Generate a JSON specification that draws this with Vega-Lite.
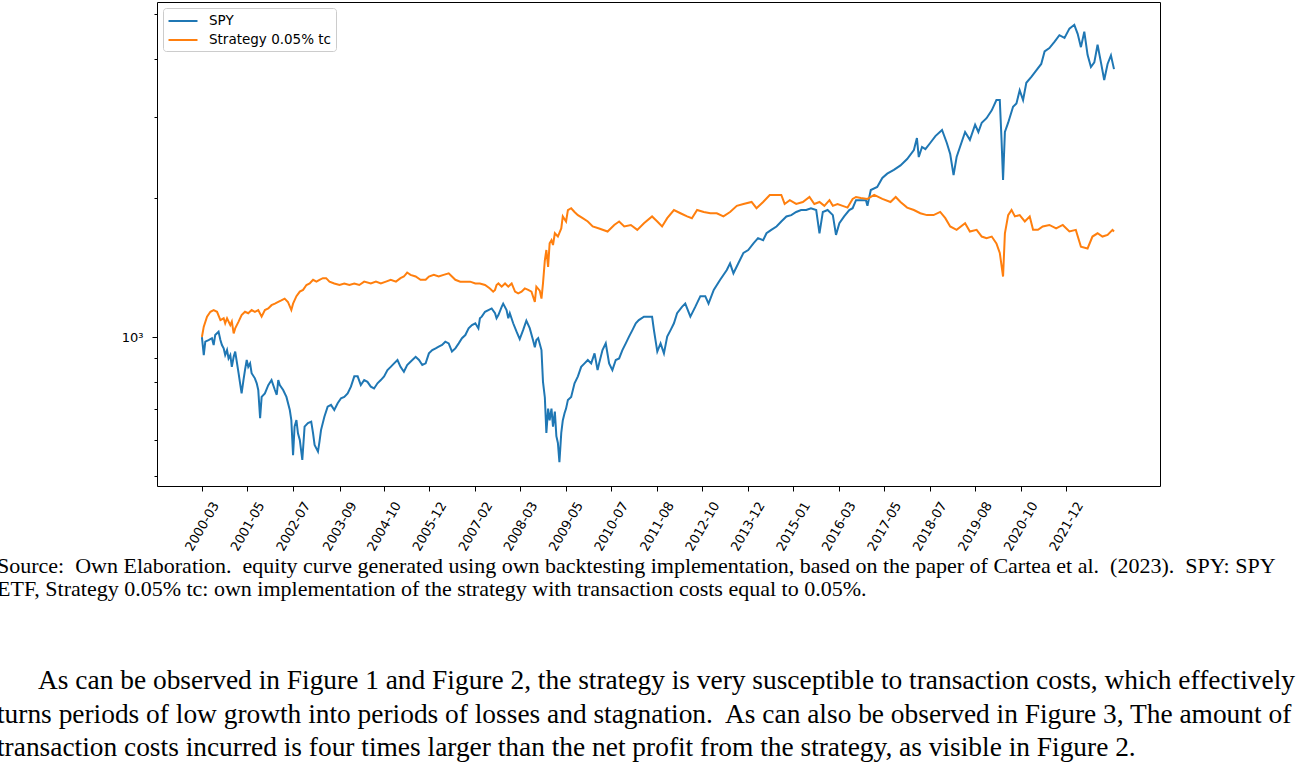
{
  "$schema": "https://vega.github.io/schema/vega-lite/v6.json",
  "autosize": "none",
  "padding": {"left": 157, "top": 2, "right": 137, "bottom": 282},
  "width": 1003,
  "height": 484,
  "background": "white",
  "config": {"view": {"stroke": "black", "strokeWidth": 1}, "font": "DejaVu Sans"},
  "title": {
    "text": [
      "Source:\u00a0 Own Elaboration.\u00a0 equity curve generated using own backtesting implementation, based on the paper of Cartea et al.\u00a0 (2023).\u00a0 SPY: SPY",
      "ETF, Strategy 0.05% tc: own implementation of the strategy with transaction costs equal to 0.05%."
    ],
    "subtitle": [
      "\u200b\u00a0\u00a0\u00a0\u00a0\u00a0\u00a0As can be observed in Figure 1 and Figure 2, the strategy is very susceptible to transaction costs, which effectively",
      "turns periods of low growth into periods of losses and stagnation.\u00a0 As can also be observed in Figure 3, The amount of",
      "transaction costs incurred is four times larger than the net profit from the strategy, as visible in Figure 2."
    ],
    "orient": "bottom",
    "anchor": "start",
    "frame": "group",
    "font": "Liberation Serif",
    "fontSize": 22,
    "fontWeight": "normal",
    "color": "black",
    "lineHeight": 23,
    "subtitleFont": "Liberation Serif",
    "subtitleFontSize": 27.4,
    "subtitleColor": "black",
    "subtitleLineHeight": 33.5,
    "subtitlePadding": 66,
    "dx": -160,
    "offset": 3,
    "limit": 3000
  },
  "data": {
    "values": [
      {"date": "2000-03-15", "series": "SPY", "value": 1000},
      {"date": "2000-04-01", "series": "SPY", "value": 914},
      {"date": "2000-04-15", "series": "SPY", "value": 977},
      {"date": "2000-05-15", "series": "SPY", "value": 985},
      {"date": "2000-06-15", "series": "SPY", "value": 994},
      {"date": "2000-07-01", "series": "SPY", "value": 961},
      {"date": "2000-07-15", "series": "SPY", "value": 1010},
      {"date": "2000-08-15", "series": "SPY", "value": 1027},
      {"date": "2000-09-01", "series": "SPY", "value": 985},
      {"date": "2000-09-15", "series": "SPY", "value": 961},
      {"date": "2000-10-01", "series": "SPY", "value": 945},
      {"date": "2000-10-15", "series": "SPY", "value": 914},
      {"date": "2000-11-01", "series": "SPY", "value": 937},
      {"date": "2000-11-15", "series": "SPY", "value": 899},
      {"date": "2000-12-01", "series": "SPY", "value": 914},
      {"date": "2000-12-15", "series": "SPY", "value": 862},
      {"date": "2001-01-01", "series": "SPY", "value": 906},
      {"date": "2001-01-15", "series": "SPY", "value": 930},
      {"date": "2001-02-01", "series": "SPY", "value": 877},
      {"date": "2001-02-15", "series": "SPY", "value": 835},
      {"date": "2001-03-01", "series": "SPY", "value": 794},
      {"date": "2001-03-15", "series": "SPY", "value": 755},
      {"date": "2001-04-01", "series": "SPY", "value": 807},
      {"date": "2001-04-15", "series": "SPY", "value": 848},
      {"date": "2001-05-01", "series": "SPY", "value": 892},
      {"date": "2001-05-15", "series": "SPY", "value": 862},
      {"date": "2001-06-01", "series": "SPY", "value": 877},
      {"date": "2001-06-15", "series": "SPY", "value": 835},
      {"date": "2001-07-15", "series": "SPY", "value": 814},
      {"date": "2001-08-01", "series": "SPY", "value": 794},
      {"date": "2001-08-15", "series": "SPY", "value": 768},
      {"date": "2001-09-01", "series": "SPY", "value": 667},
      {"date": "2001-09-15", "series": "SPY", "value": 742},
      {"date": "2001-10-15", "series": "SPY", "value": 755},
      {"date": "2001-11-15", "series": "SPY", "value": 787},
      {"date": "2001-12-15", "series": "SPY", "value": 807},
      {"date": "2002-01-15", "series": "SPY", "value": 768},
      {"date": "2002-02-01", "series": "SPY", "value": 750},
      {"date": "2002-02-15", "series": "SPY", "value": 807},
      {"date": "2002-03-01", "series": "SPY", "value": 787},
      {"date": "2002-04-01", "series": "SPY", "value": 768},
      {"date": "2002-05-01", "series": "SPY", "value": 742},
      {"date": "2002-06-01", "series": "SPY", "value": 695},
      {"date": "2002-06-15", "series": "SPY", "value": 661},
      {"date": "2002-07-01", "series": "SPY", "value": 555},
      {"date": "2002-07-15", "series": "SPY", "value": 640},
      {"date": "2002-08-01", "series": "SPY", "value": 661},
      {"date": "2002-08-15", "series": "SPY", "value": 619},
      {"date": "2002-09-01", "series": "SPY", "value": 599},
      {"date": "2002-09-24", "series": "SPY", "value": 542},
      {"date": "2002-10-15", "series": "SPY", "value": 640},
      {"date": "2002-11-15", "series": "SPY", "value": 651},
      {"date": "2002-12-15", "series": "SPY", "value": 656},
      {"date": "2003-01-01", "series": "SPY", "value": 619},
      {"date": "2003-01-15", "series": "SPY", "value": 584},
      {"date": "2003-02-15", "series": "SPY", "value": 565},
      {"date": "2003-03-01", "series": "SPY", "value": 594},
      {"date": "2003-03-15", "series": "SPY", "value": 629},
      {"date": "2003-04-15", "series": "SPY", "value": 672},
      {"date": "2003-05-15", "series": "SPY", "value": 707},
      {"date": "2003-06-15", "series": "SPY", "value": 713},
      {"date": "2003-07-15", "series": "SPY", "value": 695},
      {"date": "2003-08-15", "series": "SPY", "value": 719},
      {"date": "2003-09-15", "series": "SPY", "value": 737},
      {"date": "2003-10-15", "series": "SPY", "value": 742},
      {"date": "2003-11-15", "series": "SPY", "value": 755},
      {"date": "2003-12-15", "series": "SPY", "value": 781},
      {"date": "2004-01-15", "series": "SPY", "value": 822},
      {"date": "2004-02-15", "series": "SPY", "value": 822},
      {"date": "2004-03-15", "series": "SPY", "value": 787},
      {"date": "2004-04-15", "series": "SPY", "value": 807},
      {"date": "2004-05-15", "series": "SPY", "value": 800},
      {"date": "2004-06-15", "series": "SPY", "value": 781},
      {"date": "2004-07-15", "series": "SPY", "value": 774},
      {"date": "2004-08-15", "series": "SPY", "value": 794},
      {"date": "2004-09-15", "series": "SPY", "value": 807},
      {"date": "2004-10-15", "series": "SPY", "value": 822},
      {"date": "2004-11-15", "series": "SPY", "value": 848},
      {"date": "2004-12-15", "series": "SPY", "value": 862},
      {"date": "2005-01-15", "series": "SPY", "value": 877},
      {"date": "2005-02-15", "series": "SPY", "value": 892},
      {"date": "2005-03-15", "series": "SPY", "value": 862},
      {"date": "2005-04-15", "series": "SPY", "value": 841},
      {"date": "2005-05-15", "series": "SPY", "value": 870},
      {"date": "2005-06-15", "series": "SPY", "value": 884},
      {"date": "2005-08-01", "series": "SPY", "value": 906},
      {"date": "2005-09-01", "series": "SPY", "value": 892},
      {"date": "2005-10-01", "series": "SPY", "value": 870},
      {"date": "2005-11-01", "series": "SPY", "value": 877},
      {"date": "2005-12-01", "series": "SPY", "value": 922},
      {"date": "2006-01-01", "series": "SPY", "value": 937},
      {"date": "2006-02-01", "series": "SPY", "value": 945},
      {"date": "2006-03-01", "series": "SPY", "value": 953},
      {"date": "2006-04-01", "series": "SPY", "value": 961},
      {"date": "2006-05-01", "series": "SPY", "value": 977},
      {"date": "2006-06-01", "series": "SPY", "value": 969},
      {"date": "2006-07-01", "series": "SPY", "value": 930},
      {"date": "2006-08-01", "series": "SPY", "value": 945},
      {"date": "2006-09-01", "series": "SPY", "value": 969},
      {"date": "2006-10-01", "series": "SPY", "value": 994},
      {"date": "2006-11-01", "series": "SPY", "value": 1010},
      {"date": "2006-12-01", "series": "SPY", "value": 1044},
      {"date": "2007-01-01", "series": "SPY", "value": 1061},
      {"date": "2007-02-01", "series": "SPY", "value": 1071},
      {"date": "2007-03-01", "series": "SPY", "value": 1044},
      {"date": "2007-03-15", "series": "SPY", "value": 1098},
      {"date": "2007-04-01", "series": "SPY", "value": 1107},
      {"date": "2007-05-01", "series": "SPY", "value": 1134},
      {"date": "2007-06-01", "series": "SPY", "value": 1144},
      {"date": "2007-07-01", "series": "SPY", "value": 1153},
      {"date": "2007-08-01", "series": "SPY", "value": 1126},
      {"date": "2007-08-15", "series": "SPY", "value": 1098},
      {"date": "2007-09-01", "series": "SPY", "value": 1116},
      {"date": "2007-10-01", "series": "SPY", "value": 1162},
      {"date": "2007-10-15", "series": "SPY", "value": 1181},
      {"date": "2007-11-15", "series": "SPY", "value": 1144},
      {"date": "2007-12-01", "series": "SPY", "value": 1098},
      {"date": "2007-12-15", "series": "SPY", "value": 1126},
      {"date": "2008-01-15", "series": "SPY", "value": 1071},
      {"date": "2008-02-15", "series": "SPY", "value": 1027},
      {"date": "2008-03-15", "series": "SPY", "value": 990},
      {"date": "2008-04-15", "series": "SPY", "value": 1035},
      {"date": "2008-05-15", "series": "SPY", "value": 1085},
      {"date": "2008-06-15", "series": "SPY", "value": 1045},
      {"date": "2008-07-15", "series": "SPY", "value": 985},
      {"date": "2008-08-01", "series": "SPY", "value": 950},
      {"date": "2008-08-15", "series": "SPY", "value": 985},
      {"date": "2008-09-01", "series": "SPY", "value": 994},
      {"date": "2008-10-01", "series": "SPY", "value": 937},
      {"date": "2008-10-15", "series": "SPY", "value": 800},
      {"date": "2008-11-01", "series": "SPY", "value": 740},
      {"date": "2008-11-15", "series": "SPY", "value": 620},
      {"date": "2008-12-01", "series": "SPY", "value": 700},
      {"date": "2008-12-15", "series": "SPY", "value": 660},
      {"date": "2009-01-01", "series": "SPY", "value": 700},
      {"date": "2009-01-15", "series": "SPY", "value": 640},
      {"date": "2009-02-01", "series": "SPY", "value": 690},
      {"date": "2009-02-15", "series": "SPY", "value": 610},
      {"date": "2009-03-01", "series": "SPY", "value": 590},
      {"date": "2009-03-15", "series": "SPY", "value": 536},
      {"date": "2009-04-01", "series": "SPY", "value": 620},
      {"date": "2009-04-15", "series": "SPY", "value": 660},
      {"date": "2009-05-01", "series": "SPY", "value": 684},
      {"date": "2009-05-15", "series": "SPY", "value": 700},
      {"date": "2009-06-01", "series": "SPY", "value": 731},
      {"date": "2009-07-01", "series": "SPY", "value": 742},
      {"date": "2009-08-01", "series": "SPY", "value": 794},
      {"date": "2009-09-01", "series": "SPY", "value": 822},
      {"date": "2009-10-01", "series": "SPY", "value": 862},
      {"date": "2009-11-01", "series": "SPY", "value": 877},
      {"date": "2009-12-01", "series": "SPY", "value": 892},
      {"date": "2010-01-01", "series": "SPY", "value": 877},
      {"date": "2010-02-01", "series": "SPY", "value": 922},
      {"date": "2010-03-01", "series": "SPY", "value": 848},
      {"date": "2010-03-15", "series": "SPY", "value": 877},
      {"date": "2010-04-15", "series": "SPY", "value": 937},
      {"date": "2010-05-15", "series": "SPY", "value": 969},
      {"date": "2010-06-15", "series": "SPY", "value": 877},
      {"date": "2010-07-15", "series": "SPY", "value": 848},
      {"date": "2010-08-15", "series": "SPY", "value": 892},
      {"date": "2010-09-15", "series": "SPY", "value": 899},
      {"date": "2010-10-15", "series": "SPY", "value": 937},
      {"date": "2010-11-15", "series": "SPY", "value": 969},
      {"date": "2010-12-15", "series": "SPY", "value": 1002},
      {"date": "2011-01-15", "series": "SPY", "value": 1035},
      {"date": "2011-02-15", "series": "SPY", "value": 1071},
      {"date": "2011-03-15", "series": "SPY", "value": 1088},
      {"date": "2011-05-01", "series": "SPY", "value": 1107},
      {"date": "2011-06-15", "series": "SPY", "value": 1107},
      {"date": "2011-07-15", "series": "SPY", "value": 1107},
      {"date": "2011-08-01", "series": "SPY", "value": 1035},
      {"date": "2011-09-01", "series": "SPY", "value": 930},
      {"date": "2011-10-01", "series": "SPY", "value": 969},
      {"date": "2011-11-01", "series": "SPY", "value": 922},
      {"date": "2011-12-01", "series": "SPY", "value": 1002},
      {"date": "2012-01-01", "series": "SPY", "value": 1035},
      {"date": "2012-02-01", "series": "SPY", "value": 1071},
      {"date": "2012-03-01", "series": "SPY", "value": 1126},
      {"date": "2012-04-15", "series": "SPY", "value": 1162},
      {"date": "2012-05-15", "series": "SPY", "value": 1181},
      {"date": "2012-07-01", "series": "SPY", "value": 1107},
      {"date": "2012-08-15", "series": "SPY", "value": 1162},
      {"date": "2012-10-01", "series": "SPY", "value": 1226},
      {"date": "2012-11-15", "series": "SPY", "value": 1226},
      {"date": "2012-12-15", "series": "SPY", "value": 1181},
      {"date": "2013-02-01", "series": "SPY", "value": 1265},
      {"date": "2013-04-01", "series": "SPY", "value": 1330},
      {"date": "2013-06-01", "series": "SPY", "value": 1397},
      {"date": "2013-07-01", "series": "SPY", "value": 1444},
      {"date": "2013-08-01", "series": "SPY", "value": 1374},
      {"date": "2013-09-15", "series": "SPY", "value": 1444},
      {"date": "2013-11-01", "series": "SPY", "value": 1521},
      {"date": "2013-12-15", "series": "SPY", "value": 1543},
      {"date": "2014-02-01", "series": "SPY", "value": 1595},
      {"date": "2014-03-15", "series": "SPY", "value": 1637},
      {"date": "2014-05-01", "series": "SPY", "value": 1620},
      {"date": "2014-06-01", "series": "SPY", "value": 1677},
      {"date": "2014-07-15", "series": "SPY", "value": 1706},
      {"date": "2014-09-01", "series": "SPY", "value": 1735},
      {"date": "2014-10-15", "series": "SPY", "value": 1779},
      {"date": "2014-12-01", "series": "SPY", "value": 1824},
      {"date": "2015-01-15", "series": "SPY", "value": 1836},
      {"date": "2015-03-01", "series": "SPY", "value": 1865},
      {"date": "2015-04-15", "series": "SPY", "value": 1883},
      {"date": "2015-06-01", "series": "SPY", "value": 1883},
      {"date": "2015-07-15", "series": "SPY", "value": 1900},
      {"date": "2015-09-01", "series": "SPY", "value": 1883},
      {"date": "2015-10-01", "series": "SPY", "value": 1677},
      {"date": "2015-11-01", "series": "SPY", "value": 1865},
      {"date": "2015-12-15", "series": "SPY", "value": 1883},
      {"date": "2016-02-01", "series": "SPY", "value": 1836},
      {"date": "2016-03-01", "series": "SPY", "value": 1664},
      {"date": "2016-04-01", "series": "SPY", "value": 1763},
      {"date": "2016-05-15", "series": "SPY", "value": 1824},
      {"date": "2016-07-01", "series": "SPY", "value": 1883},
      {"date": "2016-08-01", "series": "SPY", "value": 1900},
      {"date": "2016-09-01", "series": "SPY", "value": 1978},
      {"date": "2016-10-15", "series": "SPY", "value": 1978},
      {"date": "2016-12-01", "series": "SPY", "value": 1978},
      {"date": "2016-12-15", "series": "SPY", "value": 1923},
      {"date": "2017-01-15", "series": "SPY", "value": 2081},
      {"date": "2017-03-15", "series": "SPY", "value": 2112},
      {"date": "2017-05-01", "series": "SPY", "value": 2210},
      {"date": "2017-06-15", "series": "SPY", "value": 2257},
      {"date": "2017-08-15", "series": "SPY", "value": 2300},
      {"date": "2017-10-15", "series": "SPY", "value": 2352},
      {"date": "2017-12-15", "series": "SPY", "value": 2428},
      {"date": "2018-02-15", "series": "SPY", "value": 2540},
      {"date": "2018-03-15", "series": "SPY", "value": 2695},
      {"date": "2018-04-01", "series": "SPY", "value": 2452},
      {"date": "2018-05-01", "series": "SPY", "value": 2578},
      {"date": "2018-06-01", "series": "SPY", "value": 2550},
      {"date": "2018-07-15", "series": "SPY", "value": 2630},
      {"date": "2018-09-01", "series": "SPY", "value": 2722},
      {"date": "2018-11-01", "series": "SPY", "value": 2806},
      {"date": "2018-12-15", "series": "SPY", "value": 2630},
      {"date": "2019-01-15", "series": "SPY", "value": 2490},
      {"date": "2019-02-15", "series": "SPY", "value": 2240},
      {"date": "2019-03-15", "series": "SPY", "value": 2452},
      {"date": "2019-04-15", "series": "SPY", "value": 2578},
      {"date": "2019-06-01", "series": "SPY", "value": 2778},
      {"date": "2019-07-15", "series": "SPY", "value": 2672},
      {"date": "2019-09-01", "series": "SPY", "value": 2882},
      {"date": "2019-10-01", "series": "SPY", "value": 2778},
      {"date": "2019-11-01", "series": "SPY", "value": 2910},
      {"date": "2019-12-15", "series": "SPY", "value": 2976},
      {"date": "2020-02-01", "series": "SPY", "value": 3095},
      {"date": "2020-03-15", "series": "SPY", "value": 3258},
      {"date": "2020-04-15", "series": "SPY", "value": 3258},
      {"date": "2020-05-01", "series": "SPY", "value": 2672},
      {"date": "2020-05-15", "series": "SPY", "value": 2188},
      {"date": "2020-06-01", "series": "SPY", "value": 2778},
      {"date": "2020-07-01", "series": "SPY", "value": 2910},
      {"date": "2020-08-15", "series": "SPY", "value": 3150},
      {"date": "2020-09-15", "series": "SPY", "value": 3203},
      {"date": "2020-10-15", "series": "SPY", "value": 3420},
      {"date": "2020-11-15", "series": "SPY", "value": 3258},
      {"date": "2020-12-15", "series": "SPY", "value": 3550},
      {"date": "2021-02-01", "series": "SPY", "value": 3660},
      {"date": "2021-03-15", "series": "SPY", "value": 3770},
      {"date": "2021-05-01", "series": "SPY", "value": 3900},
      {"date": "2021-06-01", "series": "SPY", "value": 4150},
      {"date": "2021-07-15", "series": "SPY", "value": 4220},
      {"date": "2021-09-01", "series": "SPY", "value": 4360},
      {"date": "2021-10-15", "series": "SPY", "value": 4500},
      {"date": "2021-12-01", "series": "SPY", "value": 4440},
      {"date": "2022-01-15", "series": "SPY", "value": 4650},
      {"date": "2022-03-01", "series": "SPY", "value": 4740},
      {"date": "2022-04-01", "series": "SPY", "value": 4530},
      {"date": "2022-05-01", "series": "SPY", "value": 4240},
      {"date": "2022-06-01", "series": "SPY", "value": 4580},
      {"date": "2022-07-01", "series": "SPY", "value": 4080},
      {"date": "2022-08-01", "series": "SPY", "value": 3840},
      {"date": "2022-09-01", "series": "SPY", "value": 3930},
      {"date": "2022-10-01", "series": "SPY", "value": 4290},
      {"date": "2022-11-01", "series": "SPY", "value": 3930},
      {"date": "2022-12-01", "series": "SPY", "value": 3600},
      {"date": "2023-01-01", "series": "SPY", "value": 3900},
      {"date": "2023-02-01", "series": "SPY", "value": 4070},
      {"date": "2023-03-01", "series": "SPY", "value": 3800},
      {"date": "2000-03-15", "series": "Strategy 0.05% tc", "value": 1000},
      {"date": "2000-04-01", "series": "Strategy 0.05% tc", "value": 1053},
      {"date": "2000-05-01", "series": "Strategy 0.05% tc", "value": 1107},
      {"date": "2000-06-01", "series": "Strategy 0.05% tc", "value": 1134},
      {"date": "2000-07-01", "series": "Strategy 0.05% tc", "value": 1144},
      {"date": "2000-08-01", "series": "Strategy 0.05% tc", "value": 1134},
      {"date": "2000-09-01", "series": "Strategy 0.05% tc", "value": 1088},
      {"date": "2000-10-01", "series": "Strategy 0.05% tc", "value": 1098},
      {"date": "2000-10-15", "series": "Strategy 0.05% tc", "value": 1071},
      {"date": "2000-11-01", "series": "Strategy 0.05% tc", "value": 1098},
      {"date": "2000-12-01", "series": "Strategy 0.05% tc", "value": 1061},
      {"date": "2000-12-15", "series": "Strategy 0.05% tc", "value": 1080},
      {"date": "2001-01-01", "series": "Strategy 0.05% tc", "value": 1018},
      {"date": "2001-01-15", "series": "Strategy 0.05% tc", "value": 1044},
      {"date": "2001-02-15", "series": "Strategy 0.05% tc", "value": 1080},
      {"date": "2001-03-15", "series": "Strategy 0.05% tc", "value": 1116},
      {"date": "2001-04-15", "series": "Strategy 0.05% tc", "value": 1134},
      {"date": "2001-05-15", "series": "Strategy 0.05% tc", "value": 1126},
      {"date": "2001-06-15", "series": "Strategy 0.05% tc", "value": 1144},
      {"date": "2001-07-15", "series": "Strategy 0.05% tc", "value": 1134},
      {"date": "2001-08-15", "series": "Strategy 0.05% tc", "value": 1144},
      {"date": "2001-09-15", "series": "Strategy 0.05% tc", "value": 1107},
      {"date": "2001-10-15", "series": "Strategy 0.05% tc", "value": 1144},
      {"date": "2001-11-15", "series": "Strategy 0.05% tc", "value": 1153},
      {"date": "2001-12-15", "series": "Strategy 0.05% tc", "value": 1172},
      {"date": "2002-01-15", "series": "Strategy 0.05% tc", "value": 1181},
      {"date": "2002-02-15", "series": "Strategy 0.05% tc", "value": 1191},
      {"date": "2002-03-15", "series": "Strategy 0.05% tc", "value": 1200},
      {"date": "2002-04-15", "series": "Strategy 0.05% tc", "value": 1211},
      {"date": "2002-05-15", "series": "Strategy 0.05% tc", "value": 1191},
      {"date": "2002-06-15", "series": "Strategy 0.05% tc", "value": 1144},
      {"date": "2002-07-01", "series": "Strategy 0.05% tc", "value": 1181},
      {"date": "2002-08-01", "series": "Strategy 0.05% tc", "value": 1226},
      {"date": "2002-09-01", "series": "Strategy 0.05% tc", "value": 1254},
      {"date": "2002-10-01", "series": "Strategy 0.05% tc", "value": 1265},
      {"date": "2002-11-01", "series": "Strategy 0.05% tc", "value": 1296},
      {"date": "2002-12-01", "series": "Strategy 0.05% tc", "value": 1306},
      {"date": "2003-01-01", "series": "Strategy 0.05% tc", "value": 1330},
      {"date": "2003-02-01", "series": "Strategy 0.05% tc", "value": 1318},
      {"date": "2003-03-01", "series": "Strategy 0.05% tc", "value": 1330},
      {"date": "2003-04-01", "series": "Strategy 0.05% tc", "value": 1341},
      {"date": "2003-05-01", "series": "Strategy 0.05% tc", "value": 1341},
      {"date": "2003-06-01", "series": "Strategy 0.05% tc", "value": 1318},
      {"date": "2003-07-15", "series": "Strategy 0.05% tc", "value": 1306},
      {"date": "2003-09-01", "series": "Strategy 0.05% tc", "value": 1296},
      {"date": "2003-10-15", "series": "Strategy 0.05% tc", "value": 1306},
      {"date": "2003-12-01", "series": "Strategy 0.05% tc", "value": 1296},
      {"date": "2004-01-15", "series": "Strategy 0.05% tc", "value": 1306},
      {"date": "2004-03-01", "series": "Strategy 0.05% tc", "value": 1296},
      {"date": "2004-04-15", "series": "Strategy 0.05% tc", "value": 1318},
      {"date": "2004-06-15", "series": "Strategy 0.05% tc", "value": 1306},
      {"date": "2004-08-01", "series": "Strategy 0.05% tc", "value": 1318},
      {"date": "2004-09-15", "series": "Strategy 0.05% tc", "value": 1306},
      {"date": "2004-11-01", "series": "Strategy 0.05% tc", "value": 1318},
      {"date": "2004-12-15", "series": "Strategy 0.05% tc", "value": 1330},
      {"date": "2005-02-01", "series": "Strategy 0.05% tc", "value": 1318},
      {"date": "2005-03-15", "series": "Strategy 0.05% tc", "value": 1341},
      {"date": "2005-04-15", "series": "Strategy 0.05% tc", "value": 1352},
      {"date": "2005-05-15", "series": "Strategy 0.05% tc", "value": 1379},
      {"date": "2005-06-15", "series": "Strategy 0.05% tc", "value": 1363},
      {"date": "2005-08-01", "series": "Strategy 0.05% tc", "value": 1352},
      {"date": "2005-09-15", "series": "Strategy 0.05% tc", "value": 1330},
      {"date": "2005-11-01", "series": "Strategy 0.05% tc", "value": 1330},
      {"date": "2005-12-01", "series": "Strategy 0.05% tc", "value": 1352},
      {"date": "2006-01-15", "series": "Strategy 0.05% tc", "value": 1363},
      {"date": "2006-03-01", "series": "Strategy 0.05% tc", "value": 1352},
      {"date": "2006-04-15", "series": "Strategy 0.05% tc", "value": 1363},
      {"date": "2006-06-01", "series": "Strategy 0.05% tc", "value": 1374},
      {"date": "2006-07-01", "series": "Strategy 0.05% tc", "value": 1352},
      {"date": "2006-08-01", "series": "Strategy 0.05% tc", "value": 1330},
      {"date": "2006-09-15", "series": "Strategy 0.05% tc", "value": 1318},
      {"date": "2006-11-01", "series": "Strategy 0.05% tc", "value": 1318},
      {"date": "2006-12-15", "series": "Strategy 0.05% tc", "value": 1318},
      {"date": "2007-02-01", "series": "Strategy 0.05% tc", "value": 1306},
      {"date": "2007-03-15", "series": "Strategy 0.05% tc", "value": 1306},
      {"date": "2007-05-01", "series": "Strategy 0.05% tc", "value": 1296},
      {"date": "2007-06-15", "series": "Strategy 0.05% tc", "value": 1274},
      {"date": "2007-07-15", "series": "Strategy 0.05% tc", "value": 1254},
      {"date": "2007-08-01", "series": "Strategy 0.05% tc", "value": 1265},
      {"date": "2007-08-15", "series": "Strategy 0.05% tc", "value": 1296},
      {"date": "2007-09-01", "series": "Strategy 0.05% tc", "value": 1306},
      {"date": "2007-10-01", "series": "Strategy 0.05% tc", "value": 1285},
      {"date": "2007-11-01", "series": "Strategy 0.05% tc", "value": 1306},
      {"date": "2007-12-01", "series": "Strategy 0.05% tc", "value": 1285},
      {"date": "2008-01-01", "series": "Strategy 0.05% tc", "value": 1306},
      {"date": "2008-02-01", "series": "Strategy 0.05% tc", "value": 1254},
      {"date": "2008-03-01", "series": "Strategy 0.05% tc", "value": 1243},
      {"date": "2008-04-01", "series": "Strategy 0.05% tc", "value": 1254},
      {"date": "2008-05-01", "series": "Strategy 0.05% tc", "value": 1274},
      {"date": "2008-06-01", "series": "Strategy 0.05% tc", "value": 1265},
      {"date": "2008-07-01", "series": "Strategy 0.05% tc", "value": 1254},
      {"date": "2008-08-01", "series": "Strategy 0.05% tc", "value": 1191},
      {"date": "2008-08-15", "series": "Strategy 0.05% tc", "value": 1285},
      {"date": "2008-09-15", "series": "Strategy 0.05% tc", "value": 1260},
      {"date": "2008-10-01", "series": "Strategy 0.05% tc", "value": 1211},
      {"date": "2008-10-15", "series": "Strategy 0.05% tc", "value": 1306},
      {"date": "2008-11-01", "series": "Strategy 0.05% tc", "value": 1466},
      {"date": "2008-11-15", "series": "Strategy 0.05% tc", "value": 1543},
      {"date": "2008-12-01", "series": "Strategy 0.05% tc", "value": 1418},
      {"date": "2008-12-15", "series": "Strategy 0.05% tc", "value": 1595},
      {"date": "2009-01-01", "series": "Strategy 0.05% tc", "value": 1620},
      {"date": "2009-01-15", "series": "Strategy 0.05% tc", "value": 1582},
      {"date": "2009-02-01", "series": "Strategy 0.05% tc", "value": 1677},
      {"date": "2009-03-01", "series": "Strategy 0.05% tc", "value": 1650},
      {"date": "2009-04-01", "series": "Strategy 0.05% tc", "value": 1718},
      {"date": "2009-04-15", "series": "Strategy 0.05% tc", "value": 1824},
      {"date": "2009-05-15", "series": "Strategy 0.05% tc", "value": 1779},
      {"date": "2009-06-01", "series": "Strategy 0.05% tc", "value": 1883},
      {"date": "2009-07-01", "series": "Strategy 0.05% tc", "value": 1900},
      {"date": "2009-08-01", "series": "Strategy 0.05% tc", "value": 1865},
      {"date": "2009-09-01", "series": "Strategy 0.05% tc", "value": 1836},
      {"date": "2009-10-15", "series": "Strategy 0.05% tc", "value": 1808},
      {"date": "2009-12-01", "series": "Strategy 0.05% tc", "value": 1779},
      {"date": "2010-01-15", "series": "Strategy 0.05% tc", "value": 1735},
      {"date": "2010-03-15", "series": "Strategy 0.05% tc", "value": 1718},
      {"date": "2010-06-01", "series": "Strategy 0.05% tc", "value": 1692},
      {"date": "2010-08-01", "series": "Strategy 0.05% tc", "value": 1748},
      {"date": "2010-09-15", "series": "Strategy 0.05% tc", "value": 1779},
      {"date": "2010-11-01", "series": "Strategy 0.05% tc", "value": 1735},
      {"date": "2011-01-01", "series": "Strategy 0.05% tc", "value": 1748},
      {"date": "2011-03-01", "series": "Strategy 0.05% tc", "value": 1706},
      {"date": "2011-05-01", "series": "Strategy 0.05% tc", "value": 1763},
      {"date": "2011-07-15", "series": "Strategy 0.05% tc", "value": 1824},
      {"date": "2011-09-01", "series": "Strategy 0.05% tc", "value": 1779},
      {"date": "2011-10-15", "series": "Strategy 0.05% tc", "value": 1735},
      {"date": "2011-12-01", "series": "Strategy 0.05% tc", "value": 1808},
      {"date": "2012-02-01", "series": "Strategy 0.05% tc", "value": 1883},
      {"date": "2012-04-01", "series": "Strategy 0.05% tc", "value": 1853},
      {"date": "2012-06-01", "series": "Strategy 0.05% tc", "value": 1824},
      {"date": "2012-07-15", "series": "Strategy 0.05% tc", "value": 1808},
      {"date": "2012-09-01", "series": "Strategy 0.05% tc", "value": 1883},
      {"date": "2012-11-01", "series": "Strategy 0.05% tc", "value": 1865},
      {"date": "2013-01-01", "series": "Strategy 0.05% tc", "value": 1853},
      {"date": "2013-03-01", "series": "Strategy 0.05% tc", "value": 1853},
      {"date": "2013-05-01", "series": "Strategy 0.05% tc", "value": 1824},
      {"date": "2013-07-01", "series": "Strategy 0.05% tc", "value": 1865},
      {"date": "2013-09-01", "series": "Strategy 0.05% tc", "value": 1923},
      {"date": "2013-11-01", "series": "Strategy 0.05% tc", "value": 1941},
      {"date": "2014-01-15", "series": "Strategy 0.05% tc", "value": 1960},
      {"date": "2014-03-01", "series": "Strategy 0.05% tc", "value": 1900},
      {"date": "2014-05-01", "series": "Strategy 0.05% tc", "value": 1960},
      {"date": "2014-07-01", "series": "Strategy 0.05% tc", "value": 2030},
      {"date": "2014-09-01", "series": "Strategy 0.05% tc", "value": 2030},
      {"date": "2014-10-15", "series": "Strategy 0.05% tc", "value": 2030},
      {"date": "2014-11-15", "series": "Strategy 0.05% tc", "value": 1941},
      {"date": "2015-01-01", "series": "Strategy 0.05% tc", "value": 1978},
      {"date": "2015-03-01", "series": "Strategy 0.05% tc", "value": 1941},
      {"date": "2015-05-01", "series": "Strategy 0.05% tc", "value": 1960},
      {"date": "2015-07-01", "series": "Strategy 0.05% tc", "value": 2010},
      {"date": "2015-08-15", "series": "Strategy 0.05% tc", "value": 1941},
      {"date": "2015-10-01", "series": "Strategy 0.05% tc", "value": 1960},
      {"date": "2015-11-15", "series": "Strategy 0.05% tc", "value": 1923},
      {"date": "2016-01-01", "series": "Strategy 0.05% tc", "value": 1978},
      {"date": "2016-02-01", "series": "Strategy 0.05% tc", "value": 1923},
      {"date": "2016-03-15", "series": "Strategy 0.05% tc", "value": 1941},
      {"date": "2016-05-01", "series": "Strategy 0.05% tc", "value": 1923},
      {"date": "2016-06-15", "series": "Strategy 0.05% tc", "value": 1906},
      {"date": "2016-08-01", "series": "Strategy 0.05% tc", "value": 1990},
      {"date": "2016-09-01", "series": "Strategy 0.05% tc", "value": 2010},
      {"date": "2016-10-15", "series": "Strategy 0.05% tc", "value": 2000},
      {"date": "2016-12-15", "series": "Strategy 0.05% tc", "value": 1990},
      {"date": "2017-02-15", "series": "Strategy 0.05% tc", "value": 2030},
      {"date": "2017-05-01", "series": "Strategy 0.05% tc", "value": 1990},
      {"date": "2017-07-15", "series": "Strategy 0.05% tc", "value": 1960},
      {"date": "2017-09-01", "series": "Strategy 0.05% tc", "value": 2010},
      {"date": "2017-10-15", "series": "Strategy 0.05% tc", "value": 1960},
      {"date": "2017-12-15", "series": "Strategy 0.05% tc", "value": 1906},
      {"date": "2018-02-15", "series": "Strategy 0.05% tc", "value": 1883},
      {"date": "2018-04-15", "series": "Strategy 0.05% tc", "value": 1853},
      {"date": "2018-06-15", "series": "Strategy 0.05% tc", "value": 1836},
      {"date": "2018-08-15", "series": "Strategy 0.05% tc", "value": 1836},
      {"date": "2018-10-15", "series": "Strategy 0.05% tc", "value": 1865},
      {"date": "2018-12-01", "series": "Strategy 0.05% tc", "value": 1808},
      {"date": "2019-01-15", "series": "Strategy 0.05% tc", "value": 1735},
      {"date": "2019-03-15", "series": "Strategy 0.05% tc", "value": 1706},
      {"date": "2019-06-01", "series": "Strategy 0.05% tc", "value": 1763},
      {"date": "2019-07-15", "series": "Strategy 0.05% tc", "value": 1692},
      {"date": "2019-09-15", "series": "Strategy 0.05% tc", "value": 1706},
      {"date": "2019-11-01", "series": "Strategy 0.05% tc", "value": 1650},
      {"date": "2019-12-15", "series": "Strategy 0.05% tc", "value": 1637},
      {"date": "2020-02-01", "series": "Strategy 0.05% tc", "value": 1650},
      {"date": "2020-03-15", "series": "Strategy 0.05% tc", "value": 1595},
      {"date": "2020-04-15", "series": "Strategy 0.05% tc", "value": 1521},
      {"date": "2020-05-15", "series": "Strategy 0.05% tc", "value": 1352},
      {"date": "2020-06-01", "series": "Strategy 0.05% tc", "value": 1677},
      {"date": "2020-07-01", "series": "Strategy 0.05% tc", "value": 1836},
      {"date": "2020-08-01", "series": "Strategy 0.05% tc", "value": 1883},
      {"date": "2020-09-01", "series": "Strategy 0.05% tc", "value": 1824},
      {"date": "2020-10-15", "series": "Strategy 0.05% tc", "value": 1836},
      {"date": "2020-12-01", "series": "Strategy 0.05% tc", "value": 1779},
      {"date": "2021-01-15", "series": "Strategy 0.05% tc", "value": 1824},
      {"date": "2021-02-15", "series": "Strategy 0.05% tc", "value": 1706},
      {"date": "2021-04-01", "series": "Strategy 0.05% tc", "value": 1706},
      {"date": "2021-05-15", "series": "Strategy 0.05% tc", "value": 1735},
      {"date": "2021-07-15", "series": "Strategy 0.05% tc", "value": 1748},
      {"date": "2021-09-15", "series": "Strategy 0.05% tc", "value": 1718},
      {"date": "2021-11-15", "series": "Strategy 0.05% tc", "value": 1748},
      {"date": "2022-01-15", "series": "Strategy 0.05% tc", "value": 1692},
      {"date": "2022-03-15", "series": "Strategy 0.05% tc", "value": 1706},
      {"date": "2022-05-01", "series": "Strategy 0.05% tc", "value": 1568},
      {"date": "2022-07-01", "series": "Strategy 0.05% tc", "value": 1555},
      {"date": "2022-08-15", "series": "Strategy 0.05% tc", "value": 1650},
      {"date": "2022-10-01", "series": "Strategy 0.05% tc", "value": 1677},
      {"date": "2022-11-15", "series": "Strategy 0.05% tc", "value": 1650},
      {"date": "2023-01-01", "series": "Strategy 0.05% tc", "value": 1664},
      {"date": "2023-02-15", "series": "Strategy 0.05% tc", "value": 1706},
      {"date": "2023-03-01", "series": "Strategy 0.05% tc", "value": 1692}
    ]
  },
  "mark": {"type": "line", "strokeWidth": 2},
  "encoding": {
    "x": {
      "field": "date",
      "type": "temporal",
      "scale": {"domain": [{"year": 1999, "month": 1, "date": 27}, {"year": 2024, "month": 4, "date": 27}]},
      "axis": {
        "values": [
          {"year": 2000, "month": 3, "date": 15},
          {"year": 2001, "month": 5, "date": 7},
          {"year": 2002, "month": 7, "date": 1},
          {"year": 2003, "month": 9, "date": 1},
          {"year": 2004, "month": 10, "date": 13},
          {"year": 2005, "month": 12, "date": 5},
          {"year": 2007, "month": 2, "date": 1},
          {"year": 2008, "month": 3, "date": 20},
          {"year": 2009, "month": 5, "date": 12},
          {"year": 2010, "month": 7, "date": 3},
          {"year": 2011, "month": 8, "date": 27},
          {"year": 2012, "month": 10, "date": 18},
          {"year": 2013, "month": 12, "date": 9},
          {"year": 2015, "month": 1, "date": 31},
          {"year": 2016, "month": 3, "date": 24},
          {"year": 2017, "month": 5, "date": 18},
          {"year": 2018, "month": 7, "date": 9},
          {"year": 2019, "month": 8, "date": 30},
          {"year": 2020, "month": 10, "date": 24},
          {"year": 2021, "month": 12, "date": 15}
        ],
        "format": "%Y-%m",
        "labelAngle": -60,
        "labelAlign": "center",
        "labelBaseline": "middle",
        "labelPadding": 35,
        "labelFont": "DejaVu Sans",
        "labelFontSize": 13,
        "labelColor": "black",
        "labelOverlap": false,
        "labelFlush": false,
        "tickSize": 5,
        "tickColor": "black",
        "tickWidth": 1,
        "domain": false,
        "grid": false,
        "title": null
      }
    },
    "y": {
      "field": "value",
      "type": "quantitative",
      "scale": {"type": "log", "domain": [476, 5310], "nice": false},
      "axis": {
        "values": [500, 600, 700, 800, 900, 1000, 2000, 3000, 4000, 5000],
        "labelExpr": "datum.value == 1000 ? '10³' : ''",
        "tickSize": {"condition": {"test": "datum.value == 1000", "value": 5}, "value": 3},
        "tickColor": "black",
        "tickWidth": 1,
        "labelFont": "DejaVu Sans",
        "labelFontSize": 13,
        "labelColor": "black",
        "labelPadding": 9,
        "domain": false,
        "grid": false,
        "title": null
      }
    },
    "color": {
      "field": "series",
      "type": "nominal",
      "scale": {"domain": ["SPY", "Strategy 0.05% tc"], "range": ["#1f77b4", "#ff7f0e"]},
      "legend": {
        "title": null,
        "orient": "top-left",
        "offset": 6,
        "padding": 4.5,
        "strokeColor": "#cccccc",
        "fillColor": "white",
        "cornerRadius": 3,
        "symbolType": "M-2,0H2",
        "symbolSize": 210,
        "symbolStrokeWidth": 2,
        "symbolOffset": 7,
        "labelFont": "DejaVu Sans",
        "labelFontSize": 13.5,
        "labelColor": "black",
        "labelOffset": 17.5,
        "labelLimit": 400,
        "rowPadding": 4
      }
    }
  }
}
